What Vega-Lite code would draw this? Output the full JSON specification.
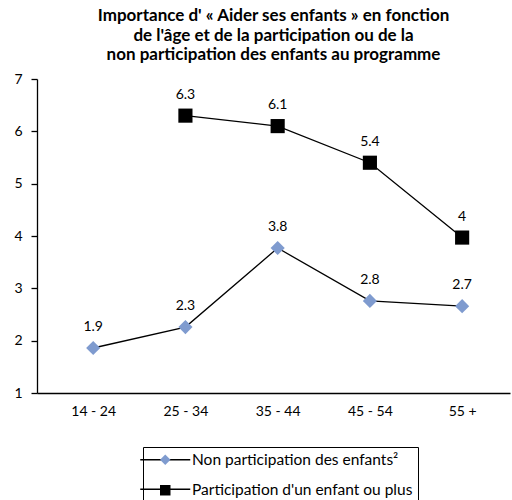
{
  "$schema": "https://vega.github.io/schema/vega-lite/v6.json",
  "width": 473,
  "height": 314,
  "autosize": "none",
  "padding": {"left": 37, "top": 79, "right": 2, "bottom": 107},
  "config": {
    "font": "Lato",
    "view": {"stroke": null},
    "axis": {"labelFont": "Lato", "labelColor": "black", "domainColor": "black", "tickColor": "black", "grid": false},
    "legend": {"labelFont": "Lato", "labelColor": "black", "labelLimit": 400}
  },
  "title": {
    "text": ["Importance d' « Aider ses enfants » en fonction", "de l'âge et de la participation ou de la", "non participation des enfants au programme"],
    "fontSize": 17,
    "fontWeight": "bold",
    "font": "Lato",
    "color": "black",
    "lineHeight": 19.5,
    "anchor": "middle",
    "offset": 8
  },
  "data": {
    "values": [
      {"age": "14 - 24", "series": "Non participation des enfants²", "value": 1.86, "label": "1.9"},
      {"age": "25 - 34", "series": "Non participation des enfants²", "value": 2.26, "label": "2.3"},
      {"age": "35 - 44", "series": "Non participation des enfants²", "value": 3.77, "label": "3.8"},
      {"age": "45 - 54", "series": "Non participation des enfants²", "value": 2.76, "label": "2.8"},
      {"age": "55 +", "series": "Non participation des enfants²", "value": 2.66, "label": "2.7"},
      {"age": "25 - 34", "series": "Participation d'un enfant ou plus", "value": 6.3, "label": "6.3"},
      {"age": "35 - 44", "series": "Participation d'un enfant ou plus", "value": 6.1, "label": "6.1"},
      {"age": "45 - 54", "series": "Participation d'un enfant ou plus", "value": 5.4, "label": "5.4"},
      {"age": "55 +", "series": "Participation d'un enfant ou plus", "value": 3.97, "label": "4"}
    ]
  },
  "encoding": {
    "x": {
      "field": "age",
      "type": "ordinal",
      "sort": ["14 - 24", "25 - 34", "35 - 44", "45 - 54", "55 +"],
      "scale": {"type": "point", "padding": 0.564, "align": 0.54},
      "axis": {"title": null, "labelAngle": 0, "ticks": false, "labelPadding": 11, "labelFontSize": 14, "domainWidth": 1.3}
    },
    "y": {
      "field": "value",
      "type": "quantitative",
      "scale": {"domain": [1, 7], "nice": false, "zero": false},
      "axis": {"title": null, "values": [1, 2, 3, 4, 5, 6, 7], "tickSize": 6, "labelPadding": 9, "labelFontSize": 14, "domainWidth": 1.3, "tickWidth": 1.3}
    }
  },
  "layer": [
    {
      "mark": {"type": "line", "strokeWidth": 1.3},
      "encoding": {
        "stroke": {
          "field": "series",
          "type": "nominal",
          "scale": {"range": ["black", "black"]},
          "legend": {
            "title": null,
            "orient": "none",
            "legendX": 106,
            "legendY": 368,
            "padding": 5,
            "symbolType": "M-5,0H5",
            "symbolSize": 100,
            "symbolStrokeWidth": 1.3,
            "symbolOffset": 9.5,
            "labelOffset": 19,
            "labelFontSize": 15.5,
            "labelOpacity": 0,
            "rowPadding": 12.5,
            "zindex": 0
          }
        }
      }
    },
    {
      "mark": {"type": "point", "filled": true, "size": 200, "opacity": 1},
      "encoding": {
        "fill": {
          "field": "series",
          "type": "nominal",
          "scale": {"domain": ["Non participation des enfants²", "Participation d'un enfant ou plus"], "range": ["#7f9bcf", "black"]},
          "legend": {
            "title": null,
            "orient": "none",
            "legendX": 106,
            "legendY": 368,
            "padding": 5,
            "symbolSize": 110,
            "symbolStrokeWidth": 1.3,
            "symbolStrokeColor": "transparent",
            "symbolOffset": 9.5,
            "labelOffset": 19,
            "labelFontSize": 15.5,
            "rowPadding": 12.5,
            "strokeColor": "black",
            "zindex": 1
          }
        },
        "shape": {
          "field": "series",
          "type": "nominal",
          "scale": {"domain": ["Non participation des enfants²", "Participation d'un enfant ou plus"], "range": ["diamond", "square"]},
          "legend": {
            "title": null,
            "orient": "none",
            "legendX": 106,
            "legendY": 368,
            "padding": 5,
            "symbolSize": 110,
            "symbolStrokeWidth": 1.3,
            "symbolStrokeColor": "transparent",
            "symbolOffset": 9.5,
            "labelOffset": 19,
            "labelFontSize": 15.5,
            "rowPadding": 12.5,
            "strokeColor": "black",
            "zindex": 1
          }
        }
      }
    },
    {
      "mark": {"type": "text", "dy": -21, "fontSize": 14, "color": "black", "font": "Lato"},
      "encoding": {"text": {"field": "label"}}
    }
  ]
}
